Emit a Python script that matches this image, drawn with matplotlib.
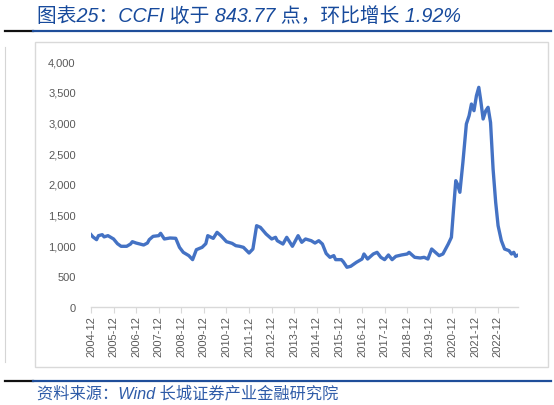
import matplotlib
matplotlib.use("Agg")
import matplotlib.pyplot as plt
from matplotlib.lines import Line2D
from matplotlib.patches import Rectangle
import pandas as pd

plt.rcParams['font.family'] = ['Liberation Sans', 'Noto Sans CJK SC', 'DejaVu Sans']

title_text = "图表25：CCFI 收于 843.77 点，环比增长 1.92%"
source_text = "资料来源：Wind 长城证券产业金融研究院"

dates = [
    "2004-12-01", "2005-01-01", "2005-03-01", "2005-04-01", "2005-06-01", "2005-07-01",
    "2005-09-01", "2005-12-01", "2006-02-01", "2006-04-01", "2006-07-01", "2006-09-01",
    "2006-10-01", "2006-12-01", "2007-02-01", "2007-04-01", "2007-06-01", "2007-07-01",
    "2007-09-01", "2007-12-01", "2008-01-01", "2008-03-01", "2008-06-01", "2008-09-01",
    "2008-11-01", "2009-01-01", "2009-04-01", "2009-06-01", "2009-08-01", "2009-11-01",
    "2010-01-01", "2010-02-01", "2010-05-01", "2010-07-01", "2010-09-01", "2010-12-01",
    "2011-03-01", "2011-05-01", "2011-07-01", "2011-09-01", "2011-12-01", "2012-02-01",
    "2012-04-01", "2012-06-01", "2012-09-01", "2012-12-01", "2013-02-01", "2013-03-01",
    "2013-06-01", "2013-08-01", "2013-11-01", "2014-02-01", "2014-04-01", "2014-06-01",
    "2014-09-01", "2014-11-01", "2015-01-01", "2015-03-01", "2015-05-01", "2015-07-01",
    "2015-09-01", "2015-10-01", "2016-01-01", "2016-02-01", "2016-04-01", "2016-06-01",
    "2016-09-01", "2016-12-01", "2017-01-01", "2017-03-01", "2017-06-01", "2017-08-01",
    "2017-10-01", "2017-12-01", "2018-02-01", "2018-04-01", "2018-06-01", "2018-09-01",
    "2018-12-01", "2019-01-01", "2019-04-01", "2019-07-01", "2019-09-01", "2019-11-01",
    "2020-01-01", "2020-03-01", "2020-05-01", "2020-07-01", "2020-09-25", "2020-11-15",
    "2020-12-20", "2021-01-25", "2021-02-20", "2021-04-01", "2021-05-20", "2021-07-15",
    "2021-08-28", "2021-10-05", "2021-11-15", "2021-12-25", "2022-02-01", "2022-03-01",
    "2022-04-12", "2022-05-25", "2022-07-01", "2022-08-10", "2022-09-20", "2022-11-01",
    "2022-12-10", "2023-02-01", "2023-03-25", "2023-06-05", "2023-07-15", "2023-08-20",
    "2023-09-20", "2023-10-28",
]
ccfi = [
    1176, 1140, 1095, 1160, 1176, 1140,
    1160, 1106, 1030, 987, 987, 1024,
    1062, 1040, 1024, 1008, 1040, 1095,
    1149, 1160, 1198, 1106, 1122, 1117,
    970, 889, 835, 770, 932, 970,
    1030, 1160, 1116, 1214, 1160, 1062,
    1035, 997, 987, 970, 878, 943,
    1322, 1295, 1187, 1106, 1133, 1078,
    1024, 1133, 987, 1160, 1052, 1106,
    1078, 1040, 1078, 1024, 870, 808,
    835, 770, 770, 737, 646, 662,
    727, 780, 862, 780, 862, 889,
    808, 770, 846, 770, 824, 846,
    862, 889, 808, 797, 808, 780,
    943, 889, 835, 862, 1024, 1133,
    1593, 2054, 2000, 1865, 2352, 2976,
    3110, 3300, 3192, 3436, 3572, 3382,
    3057, 3192, 3247, 3000, 2244, 1702,
    1322, 1078, 943, 916, 862, 889,
    824, 844,
]
tick_labels = [f"{y}-12" for y in range(2004, 2023)]
y_ticks = [0, 500, 1000, 1500, 2000, 2500, 3000, 3500, 4000]

W, H = 554, 406
fig = plt.figure(figsize=(W / 100, H / 100), dpi=100)

def fx(px):
    return px / W

def fy(py):
    return 1 - py / H

# chart border
fig.add_artist(Rectangle((fx(35), fy(368)), fx(548) - fx(35), fy(43) - fy(368),
                         transform=fig.transFigure, fill=False, edgecolor='#D9D9D9', linewidth=1))
# left grey line
fig.add_artist(Line2D([fx(5), fx(5)], [fy(48), fy(363)], transform=fig.transFigure,
                      color='#D5D5D5', linewidth=0.8))
# title & source rules
for yy in (31.7, 381.7):
    fig.add_artist(Line2D([fx(5), fx(33)], [fy(yy), fy(yy)], transform=fig.transFigure,
                          color='#111111', linewidth=1.6))
    fig.add_artist(Line2D([fx(33), fx(551)], [fy(yy), fy(yy)], transform=fig.transFigure,
                          color='#1F4E9A', linewidth=1.6))

fig.text(fx(37), fy(16), title_text, fontsize=14.2, style='italic', color='#174A9C',
         va='center', ha='left')
fig.text(fx(37), fy(393), source_text, fontsize=11.7, style='italic', color='#2E5BA8',
         va='center', ha='left')

ax = fig.add_axes([fx(91), fy(308), fx(518) - fx(91), fy(62) - fy(308)])
x = pd.to_datetime(dates)
ax.plot(x, ccfi, color='#4472C4', linewidth=2.4, solid_joinstyle='round')
ax.set_xlim(x[0], x[-1])
ax.set_ylim(0, 4000)
ax.set_yticks(y_ticks)
ax.set_yticklabels([f"{v:,}" for v in y_ticks])
tick_pos = pd.to_datetime([f"{y}-12-01" for y in range(2004, 2023)])
ax.set_xticks(tick_pos)
ax.set_xticklabels(tick_labels, rotation=90)
for s in ('top', 'right', 'left'):
    ax.spines[s].set_visible(False)
ax.spines['bottom'].set_color('#D9D9D9')
ax.spines['bottom'].set_linewidth(1)
ax.tick_params(axis='y', length=0, pad=11, labelsize=8, labelcolor='#595959')
ax.tick_params(axis='x', length=4, width=0.8, color='#D9D9D9', pad=2, labelsize=8,
               labelcolor='#595959')
ax.patch.set_alpha(0)

fig.savefig("out.png", dpi=100)
